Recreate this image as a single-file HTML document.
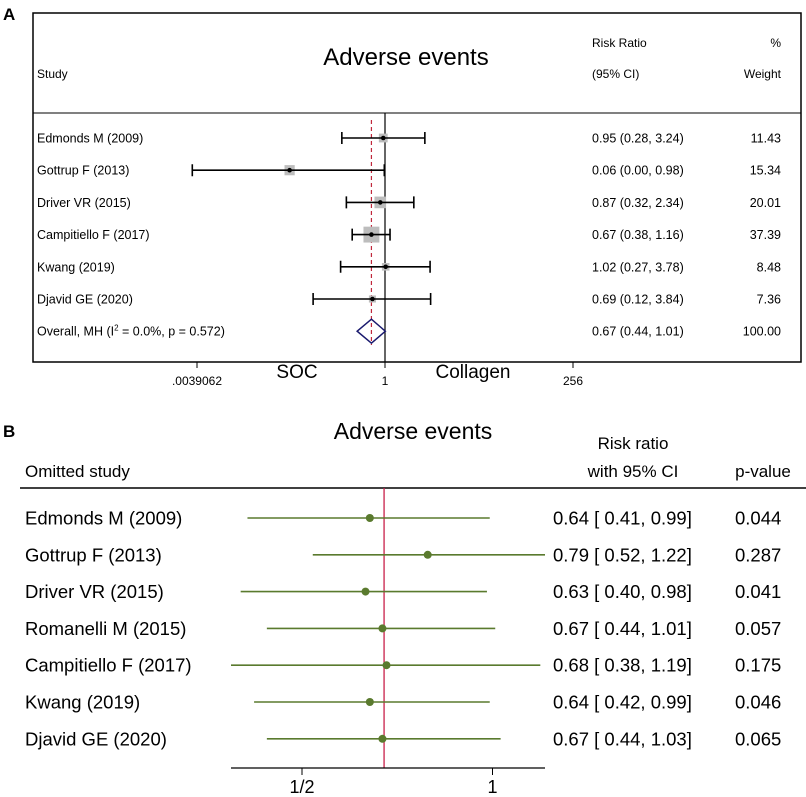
<!DOCTYPE html>
<html><head><meta charset="utf-8"><style>
body{margin:0;background:#fff}
svg{display:block;font-family:"Liberation Sans",Arial,sans-serif}
</style></head><body>
<svg id="c" width="806" height="797" viewBox="0 0 806 797">
<text x="3" y="20" font-size="17" font-weight="bold">A</text>
<rect x="33" y="13" width="768" height="349" fill="none" stroke="#000" stroke-width="1.5"/>
<line x1="33" y1="113" x2="801" y2="113" stroke="#000" stroke-width="1"/>
<text x="406" y="65" font-size="24" text-anchor="middle">Adverse events</text>
<text x="37" y="78" font-size="12">Study</text>
<text x="592" y="47" font-size="12">Risk Ratio</text>
<text x="592" y="78" font-size="12">(95% CI)</text>
<text x="781" y="47" font-size="12" text-anchor="end">%</text>
<text x="781" y="78" font-size="12" text-anchor="end">Weight</text>
<g id="ga"></g>
<text x="3" y="437" font-size="17" font-weight="bold">B</text>
<text x="413" y="439" font-size="23" text-anchor="middle">Adverse events</text>
<text x="633" y="449" font-size="17" text-anchor="middle">Risk ratio</text>
<text x="633" y="477" font-size="17" text-anchor="middle">with 95% CI</text>
<text x="763" y="477" font-size="17" text-anchor="middle">p-value</text>
<text x="25" y="477" font-size="17">Omitted study</text>
<line x1="20" y1="488" x2="806" y2="488" stroke="#000" stroke-width="1.5"/>
<g id="gb"></g>
</svg>
<script>
const studiesA=["Edmonds M (2009)","Gottrup F (2013)","Driver VR (2015)","Campitiello F (2017)","Kwang (2019)","Djavid GE (2020)"];
const rrA=[0.95,0.06,0.87,0.67,1.02,0.69];
const loA=[0.28,0.0034,0.32,0.38,0.27,0.12];
const hiA=[3.24,0.98,2.34,1.16,3.78,3.84];
const ciTextA=["0.95 (0.28, 3.24)","0.06 (0.00, 0.98)","0.87 (0.32, 2.34)","0.67 (0.38, 1.16)","1.02 (0.27, 3.78)","0.69 (0.12, 3.84)"];
const weightA=[11.43,15.34,20.01,37.39,8.48,7.36];
const overallA=[0.67,0.44,1.01];
const ticksA=[0.0039062,1,256];
const tickLabelsA=[".0039062","1","256"];

const studiesB=["Edmonds M (2009)","Gottrup F (2013)","Driver VR (2015)","Romanelli M (2015)","Campitiello F (2017)","Kwang (2019)","Djavid GE (2020)"];
const rrB=[0.64,0.79,0.63,0.67,0.68,0.64,0.67];
const loB=[0.41,0.52,0.40,0.44,0.38,0.42,0.44];
const hiB=[0.99,1.22,0.98,1.01,1.19,0.99,1.03];
const pB=["0.044","0.287","0.041","0.057","0.175","0.046","0.065"];
const ticksB=[0.5,1];
const tickLabelsB=["1/2","1"];
const overallB=0.674;

const NS="http://www.w3.org/2000/svg";
function mk(p,t,a,txt){const e=document.createElementNS(NS,t);for(const k in a)e.setAttribute(k,a[k]);if(txt!==undefined)e.textContent=txt;p.appendChild(e);return e;}
const xA=v=>385+23.5*Math.log2(v);
const yA=i=>138+32.2*i;
const ga=document.getElementById('ga');
let l=mk(ga,'line',{x1:385,y1:113,x2:385,y2:362,stroke:'#000','stroke-width':1.2});


l=mk(ga,'line',{x1:xA(overallA[0]),y1:120,x2:xA(overallA[0]),y2:345,stroke:'#c0283c','stroke-width':1.2,'stroke-dasharray':'4,3'});


studiesA.forEach((s,i)=>{
  const y=yA(i);
  let t=mk(ga,'text',{x:37,y:y+4.5,'font-size':12.5},s);
  
  
  const sz=Math.sqrt(weightA[i])*2.6;
  let r=mk(ga,'rect',{x:xA(rrA[i])-sz/2,y:y-sz/2,width:sz,height:sz,fill:'#bdbdbd'});
  
  
  let c=mk(ga,'path',{d:`M${xA(loA[i])},${y}H${xA(hiA[i])}M${xA(loA[i])},${y-6}V${y+6}M${xA(hiA[i])},${y-6}V${y+6}`,stroke:'#000','stroke-width':1.6,fill:'none'});
  
  
  let d=mk(ga,'circle',{cx:xA(rrA[i]),cy:y,r:2.3,fill:'#000'});
  
  
  t=mk(ga,'text',{x:592,y:y+4.5,'font-size':12.5},ciTextA[i]);
  
  
  t=mk(ga,'text',{x:781,y:y+4.5,'font-size':12.5,'text-anchor':'end'},weightA[i].toFixed(2));
  
  
});
{
  const y=yA(6);
  let t=mk(ga,'text',{x:37,y:y+4.5,'font-size':12.5});
  t.innerHTML='Overall, MH (I<tspan font-size="8" dy="-5">2</tspan><tspan dy="5"> = 0.0%, p = 0.572)</tspan>';
  
  
  const a=xA(overallA[1]),m=xA(overallA[0]),b=xA(overallA[2]);
  let p=mk(ga,'path',{d:`M${a},${y}L${m},${y-12}L${b},${y}L${m},${y+12}Z`,fill:'none',stroke:'#1a1a6e','stroke-width':1.5});
  
  
  t=mk(ga,'text',{x:592,y:y+4.5,'font-size':12.5},'0.67 (0.44, 1.01)');
  
  
  t=mk(ga,'text',{x:781,y:y+4.5,'font-size':12.5,'text-anchor':'end'},'100.00');
  
  
}
ticksA.forEach((v,i)=>{
  let k=mk(ga,'line',{x1:xA(v),y1:362,x2:xA(v),y2:368,stroke:'#000'});
  
  
  let t=mk(ga,'text',{x:xA(v),y:385,'font-size':12,'text-anchor':'middle'},tickLabelsA[i]);
  
  
});
let t1=mk(ga,'text',{x:297,y:378,'font-size':19,'text-anchor':'middle'},'SOC');


t1=mk(ga,'text',{x:473,y:378,'font-size':19,'text-anchor':'middle'},'Collagen');



const xB=v=>492.5+190.5*Math.log2(v);
const yB=i=>518+36.8*i;
const gb=document.getElementById('gb');
l=mk(gb,'line',{x1:xB(overallB),y1:488,x2:xB(overallB),y2:768,stroke:'#c8204a','stroke-width':1.3});


studiesB.forEach((s,i)=>{
  const y=yB(i);
  let t=mk(gb,'text',{x:25,y:y+6.5,'font-size':18.5},s);
  
  
  let c=mk(gb,'line',{x1:Math.max(231,xB(loB[i])),y1:y,x2:Math.min(545,xB(hiB[i])),y2:y,stroke:'#5a7a2e','stroke-width':1.6});
  
  
  let d=mk(gb,'circle',{cx:xB(rrB[i]),cy:y,r:4,fill:'#5a7a2e'});
  
  
  t=mk(gb,'text',{x:553,y:y+6.5,'font-size':18.5},`${rrB[i].toFixed(2)} [ ${loB[i].toFixed(2)},  ${hiB[i].toFixed(2)}]`);
  t.setAttribute('xml:space','preserve');
  
  
  t=mk(gb,'text',{x:735,y:y+6.5,'font-size':18.5},pB[i]);
  
  
});
l=mk(gb,'line',{x1:231,y1:768,x2:545,y2:768,stroke:'#000','stroke-width':1.3});


ticksB.forEach((v,i)=>{
  let k=mk(gb,'line',{x1:xB(v),y1:768,x2:xB(v),y2:775,stroke:'#000'});
  
  
  let t=mk(gb,'text',{x:xB(v),y:793,'font-size':18,'text-anchor':'middle'},tickLabelsB[i]);
  
  
});
</script>
</body></html>
